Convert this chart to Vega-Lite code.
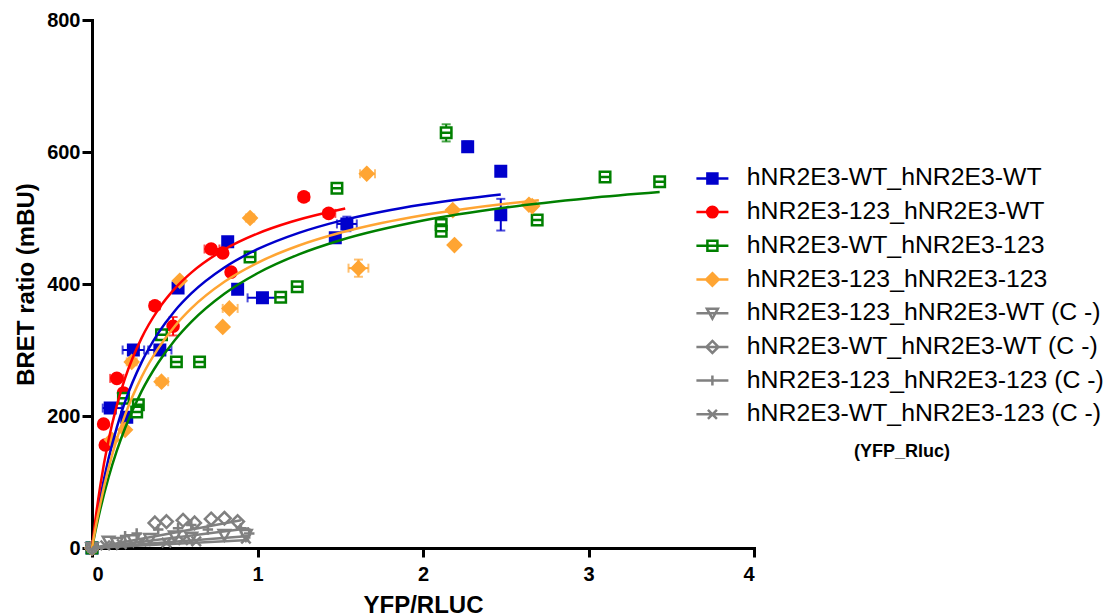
{
  "$schema": "https://vega.github.io/schema/vega-lite/v6.json",
  "width": 662,
  "height": 528,
  "autosize": {"type": "none"},
  "padding": {"left": 92, "top": 20, "right": 352, "bottom": 68},
  "background": "white",
  "config": {
    "view": {"stroke": null},
    "axis": {
      "grid": false,
      "domainColor": "black",
      "domainWidth": 3,
      "domainCap": "square",
      "tickColor": "black",
      "tickWidth": 3,
      "labelFont": "Liberation Sans",
      "labelFontSize": 20,
      "labelFontWeight": "bold",
      "labelColor": "black",
      "titleFont": "Liberation Sans",
      "titleFontSize": 24,
      "titleFontWeight": "bold",
      "titleColor": "black"
    },
    "axisX": {"tickSize": 9, "labelPadding": 7, "titleY": 64, "titleBaseline": "alphabetic", "titleAlign": "center"},
    "axisY": {"tickSize": 10, "labelPadding": 2, "titleX": -59, "titleY": 264, "titleAngle": -90, "titleAlign": "center", "titleBaseline": "alphabetic"},
    "legend": {
      "orient": "none",
      "legendX": 608,
      "legendY": 146,
      "padding": 0,
      "titleOrient": "bottom",
      "titleAnchor": "middle",
      "titlePadding": 17,
      "titleFont": "Liberation Sans",
      "titleFontSize": 18,
      "titleFontWeight": "bold",
      "titleColor": "black",
      "labelFont": "Liberation Sans",
      "labelFontSize": 24.8,
      "labelColor": "black",
      "labelLimit": 600,
      "labelOffset": 22,
      "symbolSize": 100,
      "symbolStrokeWidth": 2.5,
      "symbolOpacity": 1,
      "rowPadding": 7.7
    }
  },
  "resolve": {"scale": {"shape": "independent", "fill": "independent", "stroke": "independent"}},
  "datasets": {
    "pts": [
      {"series": "hNR2E3-WT_hNR2E3-WT", "x": 0, "y": 0},
      {"series": "hNR2E3-WT_hNR2E3-WT", "x": 0.11, "y": 212},
      {"series": "hNR2E3-WT_hNR2E3-WT", "x": 0.21, "y": 198},
      {"series": "hNR2E3-WT_hNR2E3-WT", "x": 0.25, "y": 300},
      {"series": "hNR2E3-WT_hNR2E3-WT", "x": 0.41, "y": 300},
      {"series": "hNR2E3-WT_hNR2E3-WT", "x": 0.52, "y": 394},
      {"series": "hNR2E3-WT_hNR2E3-WT", "x": 0.82, "y": 464},
      {"series": "hNR2E3-WT_hNR2E3-WT", "x": 0.88, "y": 392},
      {"series": "hNR2E3-WT_hNR2E3-WT", "x": 1.03, "y": 379},
      {"series": "hNR2E3-WT_hNR2E3-WT", "x": 1.47, "y": 470},
      {"series": "hNR2E3-WT_hNR2E3-WT", "x": 1.54, "y": 491},
      {"series": "hNR2E3-WT_hNR2E3-WT", "x": 2.27, "y": 608},
      {"series": "hNR2E3-WT_hNR2E3-WT", "x": 2.47, "y": 571},
      {"series": "hNR2E3-WT_hNR2E3-WT", "x": 2.47, "y": 505},
      {"series": "hNR2E3-123_hNR2E3-WT", "x": 0, "y": 0},
      {"series": "hNR2E3-123_hNR2E3-WT", "x": 0.08, "y": 156},
      {"series": "hNR2E3-123_hNR2E3-WT", "x": 0.07, "y": 188},
      {"series": "hNR2E3-123_hNR2E3-WT", "x": 0.15, "y": 257},
      {"series": "hNR2E3-123_hNR2E3-WT", "x": 0.19, "y": 235},
      {"series": "hNR2E3-123_hNR2E3-WT", "x": 0.38, "y": 367},
      {"series": "hNR2E3-123_hNR2E3-WT", "x": 0.49, "y": 336},
      {"series": "hNR2E3-123_hNR2E3-WT", "x": 0.72, "y": 453},
      {"series": "hNR2E3-123_hNR2E3-WT", "x": 0.79, "y": 447},
      {"series": "hNR2E3-123_hNR2E3-WT", "x": 0.84, "y": 418},
      {"series": "hNR2E3-123_hNR2E3-WT", "x": 1.28, "y": 532},
      {"series": "hNR2E3-123_hNR2E3-WT", "x": 1.43, "y": 507},
      {"series": "hNR2E3-WT_hNR2E3-123", "x": 0, "y": 0},
      {"series": "hNR2E3-WT_hNR2E3-123", "x": 0.19, "y": 227},
      {"series": "hNR2E3-WT_hNR2E3-123", "x": 0.28, "y": 217},
      {"series": "hNR2E3-WT_hNR2E3-123", "x": 0.27, "y": 206},
      {"series": "hNR2E3-WT_hNR2E3-123", "x": 0.42, "y": 323},
      {"series": "hNR2E3-WT_hNR2E3-123", "x": 0.51, "y": 282},
      {"series": "hNR2E3-WT_hNR2E3-123", "x": 0.65, "y": 282},
      {"series": "hNR2E3-WT_hNR2E3-123", "x": 0.955, "y": 441},
      {"series": "hNR2E3-WT_hNR2E3-123", "x": 1.14, "y": 380},
      {"series": "hNR2E3-WT_hNR2E3-123", "x": 1.24, "y": 396},
      {"series": "hNR2E3-WT_hNR2E3-123", "x": 1.48, "y": 545},
      {"series": "hNR2E3-WT_hNR2E3-123", "x": 2.11, "y": 490},
      {"series": "hNR2E3-WT_hNR2E3-123", "x": 2.11, "y": 480},
      {"series": "hNR2E3-WT_hNR2E3-123", "x": 2.14, "y": 629},
      {"series": "hNR2E3-WT_hNR2E3-123", "x": 2.69, "y": 497},
      {"series": "hNR2E3-WT_hNR2E3-123", "x": 3.1, "y": 562},
      {"series": "hNR2E3-WT_hNR2E3-123", "x": 3.43, "y": 555},
      {"series": "hNR2E3-123_hNR2E3-123", "x": 0, "y": 0},
      {"series": "hNR2E3-123_hNR2E3-123", "x": 0.12, "y": 164},
      {"series": "hNR2E3-123_hNR2E3-123", "x": 0.2, "y": 179},
      {"series": "hNR2E3-123_hNR2E3-123", "x": 0.24, "y": 282},
      {"series": "hNR2E3-123_hNR2E3-123", "x": 0.42, "y": 252},
      {"series": "hNR2E3-123_hNR2E3-123", "x": 0.53, "y": 405},
      {"series": "hNR2E3-123_hNR2E3-123", "x": 0.79, "y": 335},
      {"series": "hNR2E3-123_hNR2E3-123", "x": 0.83, "y": 363},
      {"series": "hNR2E3-123_hNR2E3-123", "x": 0.955, "y": 500},
      {"series": "hNR2E3-123_hNR2E3-123", "x": 1.61, "y": 424},
      {"series": "hNR2E3-123_hNR2E3-123", "x": 1.66, "y": 567},
      {"series": "hNR2E3-123_hNR2E3-123", "x": 2.18, "y": 512},
      {"series": "hNR2E3-123_hNR2E3-123", "x": 2.19, "y": 459},
      {"series": "hNR2E3-123_hNR2E3-123", "x": 2.64, "y": 520},
      {"series": "hNR2E3-123_hNR2E3-123", "x": 2.66, "y": 518},
      {"series": "hNR2E3-123_hNR2E3-WT (C -)", "x": 0, "y": 0},
      {"series": "hNR2E3-123_hNR2E3-WT (C -)", "x": 0.1, "y": 10},
      {"series": "hNR2E3-123_hNR2E3-WT (C -)", "x": 0.15, "y": 8},
      {"series": "hNR2E3-123_hNR2E3-WT (C -)", "x": 0.25, "y": 12},
      {"series": "hNR2E3-123_hNR2E3-WT (C -)", "x": 0.35, "y": 14},
      {"series": "hNR2E3-123_hNR2E3-WT (C -)", "x": 0.5, "y": 18},
      {"series": "hNR2E3-123_hNR2E3-WT (C -)", "x": 0.6, "y": 16},
      {"series": "hNR2E3-123_hNR2E3-WT (C -)", "x": 0.8, "y": 20},
      {"series": "hNR2E3-123_hNR2E3-WT (C -)", "x": 0.93, "y": 20},
      {"series": "hNR2E3-WT_hNR2E3-WT (C -)", "x": 0, "y": 0},
      {"series": "hNR2E3-WT_hNR2E3-WT (C -)", "x": 0.38, "y": 38},
      {"series": "hNR2E3-WT_hNR2E3-WT (C -)", "x": 0.45, "y": 40},
      {"series": "hNR2E3-WT_hNR2E3-WT (C -)", "x": 0.55, "y": 42},
      {"series": "hNR2E3-WT_hNR2E3-WT (C -)", "x": 0.62, "y": 38},
      {"series": "hNR2E3-WT_hNR2E3-WT (C -)", "x": 0.72, "y": 44},
      {"series": "hNR2E3-WT_hNR2E3-WT (C -)", "x": 0.8, "y": 45},
      {"series": "hNR2E3-WT_hNR2E3-WT (C -)", "x": 0.88, "y": 40},
      {"series": "hNR2E3-123_hNR2E3-123 (C -)", "x": 0, "y": 0},
      {"series": "hNR2E3-123_hNR2E3-123 (C -)", "x": 0.2, "y": 18},
      {"series": "hNR2E3-123_hNR2E3-123 (C -)", "x": 0.27, "y": 22},
      {"series": "hNR2E3-123_hNR2E3-123 (C -)", "x": 0.4, "y": 28},
      {"series": "hNR2E3-123_hNR2E3-123 (C -)", "x": 0.52, "y": 30},
      {"series": "hNR2E3-123_hNR2E3-123 (C -)", "x": 0.6, "y": 35},
      {"series": "hNR2E3-123_hNR2E3-123 (C -)", "x": 0.7, "y": 28},
      {"series": "hNR2E3-123_hNR2E3-123 (C -)", "x": 0.9, "y": 30},
      {"series": "hNR2E3-123_hNR2E3-123 (C -)", "x": 0.95, "y": 22},
      {"series": "hNR2E3-WT_hNR2E3-123 (C -)", "x": 0, "y": 0},
      {"series": "hNR2E3-WT_hNR2E3-123 (C -)", "x": 0.08, "y": 4},
      {"series": "hNR2E3-WT_hNR2E3-123 (C -)", "x": 0.18, "y": 6},
      {"series": "hNR2E3-WT_hNR2E3-123 (C -)", "x": 0.3, "y": 10},
      {"series": "hNR2E3-WT_hNR2E3-123 (C -)", "x": 0.45, "y": 8},
      {"series": "hNR2E3-WT_hNR2E3-123 (C -)", "x": 0.55, "y": 12},
      {"series": "hNR2E3-WT_hNR2E3-123 (C -)", "x": 0.63, "y": 10},
      {"series": "hNR2E3-WT_hNR2E3-123 (C -)", "x": 0.93, "y": 14}
    ],
    "xerr": [
      {"series": "hNR2E3-WT_hNR2E3-WT", "y": 300, "xlo": 0.185, "xhi": 0.315},
      {"series": "hNR2E3-WT_hNR2E3-WT", "y": 300, "xlo": 0.34, "xhi": 0.48},
      {"series": "hNR2E3-WT_hNR2E3-WT", "y": 212, "xlo": 0.065, "xhi": 0.18},
      {"series": "hNR2E3-WT_hNR2E3-WT", "y": 379, "xlo": 0.94, "xhi": 1.13},
      {"series": "hNR2E3-WT_hNR2E3-WT", "y": 491, "xlo": 1.48, "xhi": 1.6},
      {"series": "hNR2E3-123_hNR2E3-WT", "y": 453, "xlo": 0.68, "xhi": 0.77},
      {"series": "hNR2E3-123_hNR2E3-WT", "y": 257, "xlo": 0.11, "xhi": 0.19},
      {"series": "hNR2E3-123_hNR2E3-WT", "y": 507, "xlo": 1.4, "xhi": 1.47},
      {"series": "hNR2E3-123_hNR2E3-WT", "y": 532, "xlo": 1.25, "xhi": 1.31},
      {"series": "hNR2E3-123_hNR2E3-WT", "y": 367, "xlo": 0.35, "xhi": 0.41},
      {"series": "hNR2E3-123_hNR2E3-123", "y": 424, "xlo": 1.55, "xhi": 1.67},
      {"series": "hNR2E3-123_hNR2E3-123", "y": 363, "xlo": 0.79, "xhi": 0.88},
      {"series": "hNR2E3-123_hNR2E3-123", "y": 567, "xlo": 1.62, "xhi": 1.71},
      {"series": "hNR2E3-123_hNR2E3-123", "y": 252, "xlo": 0.39, "xhi": 0.46},
      {"series": "hNR2E3-123_hNR2E3-123", "y": 500, "xlo": 0.93, "xhi": 0.98},
      {"series": "hNR2E3-123_hNR2E3-123", "y": 282, "xlo": 0.21, "xhi": 0.27},
      {"series": "hNR2E3-WT_hNR2E3-123", "y": 629, "xlo": 2.12, "xhi": 2.17}
    ],
    "yerr": [
      {"series": "hNR2E3-WT_hNR2E3-WT", "x": 2.47, "ylo": 481, "yhi": 529},
      {"series": "hNR2E3-WT_hNR2E3-WT", "x": 2.27, "ylo": 600, "yhi": 616},
      {"series": "hNR2E3-WT_hNR2E3-WT", "x": 1.54, "ylo": 480, "yhi": 502},
      {"series": "hNR2E3-WT_hNR2E3-123", "x": 2.14, "ylo": 616, "yhi": 642},
      {"series": "hNR2E3-WT_hNR2E3-123", "x": 2.11, "ylo": 475, "yhi": 497},
      {"series": "hNR2E3-123_hNR2E3-123", "x": 1.61, "ylo": 411, "yhi": 437},
      {"series": "hNR2E3-123_hNR2E3-WT", "x": 0.49, "ylo": 322, "yhi": 350}
    ],
    "fit": [
      {"series": "hNR2E3-WT_hNR2E3-WT", "x": 0, "y": 0},
      {"series": "hNR2E3-WT_hNR2E3-WT", "x": 0.02, "y": 32.9},
      {"series": "hNR2E3-WT_hNR2E3-WT", "x": 0.05, "y": 76.1},
      {"series": "hNR2E3-WT_hNR2E3-WT", "x": 0.1, "y": 135.4},
      {"series": "hNR2E3-WT_hNR2E3-WT", "x": 0.15, "y": 182.9},
      {"series": "hNR2E3-WT_hNR2E3-WT", "x": 0.2, "y": 221.7},
      {"series": "hNR2E3-WT_hNR2E3-WT", "x": 0.3, "y": 281.6},
      {"series": "hNR2E3-WT_hNR2E3-WT", "x": 0.4, "y": 325.5},
      {"series": "hNR2E3-WT_hNR2E3-WT", "x": 0.5, "y": 359.2},
      {"series": "hNR2E3-WT_hNR2E3-WT", "x": 0.6, "y": 385.7},
      {"series": "hNR2E3-WT_hNR2E3-WT", "x": 0.8, "y": 425.0},
      {"series": "hNR2E3-WT_hNR2E3-WT", "x": 1.0, "y": 452.7},
      {"series": "hNR2E3-WT_hNR2E3-WT", "x": 1.25, "y": 477.5},
      {"series": "hNR2E3-WT_hNR2E3-WT", "x": 1.5, "y": 495.7},
      {"series": "hNR2E3-WT_hNR2E3-WT", "x": 1.75, "y": 509.5},
      {"series": "hNR2E3-WT_hNR2E3-WT", "x": 2.0, "y": 520.4},
      {"series": "hNR2E3-WT_hNR2E3-WT", "x": 2.25, "y": 529.2},
      {"series": "hNR2E3-WT_hNR2E3-WT", "x": 2.47, "y": 535.7},
      {"series": "hNR2E3-123_hNR2E3-WT", "x": 0, "y": 0},
      {"series": "hNR2E3-123_hNR2E3-WT", "x": 0.02, "y": 41.7},
      {"series": "hNR2E3-123_hNR2E3-WT", "x": 0.05, "y": 94.5},
      {"series": "hNR2E3-123_hNR2E3-WT", "x": 0.1, "y": 163.5},
      {"series": "hNR2E3-123_hNR2E3-WT", "x": 0.15, "y": 216.1},
      {"series": "hNR2E3-123_hNR2E3-WT", "x": 0.2, "y": 257.4},
      {"series": "hNR2E3-123_hNR2E3-WT", "x": 0.3, "y": 318.4},
      {"series": "hNR2E3-123_hNR2E3-WT", "x": 0.4, "y": 361.2},
      {"series": "hNR2E3-123_hNR2E3-WT", "x": 0.5, "y": 392.9},
      {"series": "hNR2E3-123_hNR2E3-WT", "x": 0.6, "y": 417.2},
      {"series": "hNR2E3-123_hNR2E3-WT", "x": 0.8, "y": 452.3},
      {"series": "hNR2E3-123_hNR2E3-WT", "x": 1.0, "y": 476.4},
      {"series": "hNR2E3-123_hNR2E3-WT", "x": 1.2, "y": 493.9},
      {"series": "hNR2E3-123_hNR2E3-WT", "x": 1.4, "y": 507.2},
      {"series": "hNR2E3-123_hNR2E3-WT", "x": 1.53, "y": 514.3},
      {"series": "hNR2E3-WT_hNR2E3-123", "x": 0, "y": 0},
      {"series": "hNR2E3-WT_hNR2E3-123", "x": 0.02, "y": 24.8},
      {"series": "hNR2E3-WT_hNR2E3-123", "x": 0.05, "y": 58.5},
      {"series": "hNR2E3-WT_hNR2E3-123", "x": 0.1, "y": 106.8},
      {"series": "hNR2E3-WT_hNR2E3-123", "x": 0.15, "y": 147.4},
      {"series": "hNR2E3-WT_hNR2E3-123", "x": 0.2, "y": 181.9},
      {"series": "hNR2E3-WT_hNR2E3-123", "x": 0.3, "y": 237.7},
      {"series": "hNR2E3-WT_hNR2E3-123", "x": 0.4, "y": 280.7},
      {"series": "hNR2E3-WT_hNR2E3-123", "x": 0.5, "y": 314.9},
      {"series": "hNR2E3-WT_hNR2E3-123", "x": 0.6, "y": 342.7},
      {"series": "hNR2E3-WT_hNR2E3-123", "x": 0.8, "y": 385.3},
      {"series": "hNR2E3-WT_hNR2E3-123", "x": 1.0, "y": 416.3},
      {"series": "hNR2E3-WT_hNR2E3-123", "x": 1.25, "y": 444.9},
      {"series": "hNR2E3-WT_hNR2E3-123", "x": 1.5, "y": 466.3},
      {"series": "hNR2E3-WT_hNR2E3-123", "x": 2.0, "y": 496.2},
      {"series": "hNR2E3-WT_hNR2E3-123", "x": 2.5, "y": 516.0},
      {"series": "hNR2E3-WT_hNR2E3-123", "x": 3.0, "y": 530.1},
      {"series": "hNR2E3-WT_hNR2E3-123", "x": 3.43, "y": 539.3},
      {"series": "hNR2E3-123_hNR2E3-123", "x": 0, "y": 0},
      {"series": "hNR2E3-123_hNR2E3-123", "x": 0.02, "y": 28.8},
      {"series": "hNR2E3-123_hNR2E3-123", "x": 0.05, "y": 67.2},
      {"series": "hNR2E3-123_hNR2E3-123", "x": 0.1, "y": 121.0},
      {"series": "hNR2E3-123_hNR2E3-123", "x": 0.15, "y": 165.0},
      {"series": "hNR2E3-123_hNR2E3-123", "x": 0.2, "y": 201.7},
      {"series": "hNR2E3-123_hNR2E3-123", "x": 0.3, "y": 259.3},
      {"series": "hNR2E3-123_hNR2E3-123", "x": 0.4, "y": 302.5},
      {"series": "hNR2E3-123_hNR2E3-123", "x": 0.5, "y": 336.1},
      {"series": "hNR2E3-123_hNR2E3-123", "x": 0.6, "y": 363.0},
      {"series": "hNR2E3-123_hNR2E3-123", "x": 0.8, "y": 403.3},
      {"series": "hNR2E3-123_hNR2E3-123", "x": 1.0, "y": 432.1},
      {"series": "hNR2E3-123_hNR2E3-123", "x": 1.25, "y": 458.3},
      {"series": "hNR2E3-123_hNR2E3-123", "x": 1.5, "y": 477.6},
      {"series": "hNR2E3-123_hNR2E3-123", "x": 1.75, "y": 492.4},
      {"series": "hNR2E3-123_hNR2E3-123", "x": 2.0, "y": 504.2},
      {"series": "hNR2E3-123_hNR2E3-123", "x": 2.25, "y": 513.7},
      {"series": "hNR2E3-123_hNR2E3-123", "x": 2.5, "y": 521.6},
      {"series": "hNR2E3-123_hNR2E3-123", "x": 2.7, "y": 526.9},
      {"series": "hNR2E3-123_hNR2E3-WT (C -)", "x": 0, "y": 0},
      {"series": "hNR2E3-123_hNR2E3-WT (C -)", "x": 0.95, "y": 18},
      {"series": "hNR2E3-WT_hNR2E3-WT (C -)", "x": 0, "y": 0},
      {"series": "hNR2E3-WT_hNR2E3-WT (C -)", "x": 0.9, "y": 42},
      {"series": "hNR2E3-123_hNR2E3-123 (C -)", "x": 0, "y": 0},
      {"series": "hNR2E3-123_hNR2E3-123 (C -)", "x": 0.95, "y": 30},
      {"series": "hNR2E3-WT_hNR2E3-123 (C -)", "x": 0, "y": 0},
      {"series": "hNR2E3-WT_hNR2E3-123 (C -)", "x": 0.95, "y": 12}
    ]
  },
  "layer": [
    {
      "data": {"name": "xerr"},
      "mark": {"type": "errorbar", "ticks": true, "size": 9, "thickness": 2},
      "encoding": {
        "x": {"field": "xlo", "type": "quantitative", "scale": {"domain": [0, 4], "nice": false}, "title": "YFP/RLUC", "axis": {"values": [0, 1, 2, 3, 4]}},
        "x2": {"field": "xhi"},
        "y": {"field": "y", "type": "quantitative", "scale": {"domain": [0, 800], "nice": false}, "title": "BRET ratio (mBU)", "axis": {"values": [0, 200, 400, 600, 800]}},
        "color": {"field": "series", "type": "nominal", "legend": null,
          "scale": {"domain": ["hNR2E3-WT_hNR2E3-WT", "hNR2E3-123_hNR2E3-WT", "hNR2E3-WT_hNR2E3-123", "hNR2E3-123_hNR2E3-123", "hNR2E3-123_hNR2E3-WT (C -)", "hNR2E3-WT_hNR2E3-WT (C -)", "hNR2E3-123_hNR2E3-123 (C -)", "hNR2E3-WT_hNR2E3-123 (C -)"],
                    "range": ["#0000CC", "#FF0000", "#008000", "#FFA533", "#808080", "#808080", "#808080", "#808080"]}}
      }
    },
    {
      "data": {"name": "yerr"},
      "mark": {"type": "errorbar", "ticks": true, "size": 9, "thickness": 2},
      "encoding": {
        "x": {"field": "x", "type": "quantitative", "scale": {"domain": [0, 4], "nice": false}, "title": "YFP/RLUC", "axis": {"values": [0, 1, 2, 3, 4]}},
        "y": {"field": "ylo", "type": "quantitative", "scale": {"domain": [0, 800], "nice": false}, "title": "BRET ratio (mBU)", "axis": {"values": [0, 200, 400, 600, 800]}},
        "y2": {"field": "yhi"},
        "color": {"field": "series", "type": "nominal", "legend": null}
      }
    },
    {
      "data": {"name": "pts"},
      "mark": {"type": "point", "filled": false, "strokeWidth": 2.5, "size": 110, "opacity": 1},
      "encoding": {
        "x": {"field": "x", "type": "quantitative", "scale": {"domain": [0, 4], "nice": false}, "title": "YFP/RLUC", "axis": {"values": [0, 1, 2, 3, 4]}},
        "y": {"field": "y", "type": "quantitative", "scale": {"domain": [0, 800], "nice": false}, "title": "BRET ratio (mBU)", "axis": {"values": [0, 200, 400, 600, 800]}},
        "shape": {"field": "series", "type": "nominal", "legend": null,
          "scale": {"domain": ["hNR2E3-WT_hNR2E3-WT", "hNR2E3-123_hNR2E3-WT", "hNR2E3-WT_hNR2E3-123", "hNR2E3-123_hNR2E3-123", "hNR2E3-123_hNR2E3-WT (C -)", "hNR2E3-WT_hNR2E3-WT (C -)", "hNR2E3-123_hNR2E3-123 (C -)", "hNR2E3-WT_hNR2E3-123 (C -)"],
                    "range": ["M-1,-1H1V1H-1Z", "M-1.05,0A1.05,1.05,0,1,0,1.05,0A1.05,1.05,0,1,0,-1.05,0Z", "M-1,-1H1V1H-1ZM-1,0H1", "M0,-1.25L1.25,0L0,1.25L-1.25,0Z", "M-1.1,-0.9H1.1L0,1.1Z", "M0,-1.2L1.2,0L0,1.2L-1.2,0Z", "M-1,0H1M0,-1V1", "M-0.9,-0.9L0.9,0.9M-0.9,0.9L0.9,-0.9"]}},
        "fill": {"field": "series", "type": "nominal", "legend": null,
          "scale": {"domain": ["hNR2E3-WT_hNR2E3-WT", "hNR2E3-123_hNR2E3-WT", "hNR2E3-WT_hNR2E3-123", "hNR2E3-123_hNR2E3-123", "hNR2E3-123_hNR2E3-WT (C -)", "hNR2E3-WT_hNR2E3-WT (C -)", "hNR2E3-123_hNR2E3-123 (C -)", "hNR2E3-WT_hNR2E3-123 (C -)"],
                    "range": ["#0000CC", "#FF0000", "white", "#FFA533", "white", "white", "white", "white"]}},
        "stroke": {"field": "series", "type": "nominal", "legend": null,
          "scale": {"domain": ["hNR2E3-WT_hNR2E3-WT", "hNR2E3-123_hNR2E3-WT", "hNR2E3-WT_hNR2E3-123", "hNR2E3-123_hNR2E3-123", "hNR2E3-123_hNR2E3-WT (C -)", "hNR2E3-WT_hNR2E3-WT (C -)", "hNR2E3-123_hNR2E3-123 (C -)", "hNR2E3-WT_hNR2E3-123 (C -)"],
                    "range": ["#0000CC", "#FF0000", "#008000", "#FFA533", "#808080", "#808080", "#808080", "#808080"]}}
      }
    },
    {
      "data": {"name": "fit"},
      "mark": {"type": "line", "strokeWidth": 2.5, "interpolate": "monotone"},
      "encoding": {
        "x": {"field": "x", "type": "quantitative", "scale": {"domain": [0, 4], "nice": false}, "title": "YFP/RLUC", "axis": {"values": [0, 1, 2, 3, 4]}},
        "y": {"field": "y", "type": "quantitative", "scale": {"domain": [0, 800], "nice": false}, "title": "BRET ratio (mBU)", "axis": {"values": [0, 200, 400, 600, 800]}},
        "color": {"field": "series", "type": "nominal", "legend": null}
      }
    },
    {
      "data": {"name": "fit"},
      "mark": {"type": "point", "filled": false, "strokeWidth": 2.5, "opacity": 0},
      "encoding": {
        "x": {"field": "x", "type": "quantitative", "scale": {"domain": [0, 4], "nice": false}, "title": "YFP/RLUC", "axis": {"values": [0, 1, 2, 3, 4]}},
        "y": {"field": "y", "type": "quantitative", "scale": {"domain": [0, 800], "nice": false}, "title": "BRET ratio (mBU)", "axis": {"values": [0, 200, 400, 600, 800]}},
        "shape": {"field": "series", "type": "nominal", "title": "(YFP_Rluc)",
          "scale": {"domain": ["hNR2E3-WT_hNR2E3-WT", "hNR2E3-123_hNR2E3-WT", "hNR2E3-WT_hNR2E3-123", "hNR2E3-123_hNR2E3-123", "hNR2E3-123_hNR2E3-WT (C -)", "hNR2E3-WT_hNR2E3-WT (C -)", "hNR2E3-123_hNR2E3-123 (C -)", "hNR2E3-WT_hNR2E3-123 (C -)"],
                    "range": ["M-3.2,0H3.2M-1,-1H1V1H-1Z", "M-3.2,0H3.2M-1.05,0A1.05,1.05,0,1,0,1.05,0A1.05,1.05,0,1,0,-1.05,0Z", "M-3.2,0H3.2M-1,-1H1V1H-1Z", "M-3.2,0H3.2M0,-1.25L1.25,0L0,1.25L-1.25,0Z", "M-3.2,0H3.2M-1.1,-0.9H1.1L0,1.1Z", "M-3.2,0H3.2M0,-1.2L1.2,0L0,1.2L-1.2,0Z", "M-3.2,0H3.2M0,-1V1", "M-3.2,0H3.2M-0.9,-0.9L0.9,0.9M-0.9,0.9L0.9,-0.9"]}},
        "fill": {"field": "series", "type": "nominal", "title": "(YFP_Rluc)",
          "scale": {"domain": ["hNR2E3-WT_hNR2E3-WT", "hNR2E3-123_hNR2E3-WT", "hNR2E3-WT_hNR2E3-123", "hNR2E3-123_hNR2E3-123", "hNR2E3-123_hNR2E3-WT (C -)", "hNR2E3-WT_hNR2E3-WT (C -)", "hNR2E3-123_hNR2E3-123 (C -)", "hNR2E3-WT_hNR2E3-123 (C -)"],
                    "range": ["#0000CC", "#FF0000", "white", "#FFA533", "white", "white", "white", "white"]}},
        "stroke": {"field": "series", "type": "nominal", "title": "(YFP_Rluc)",
          "scale": {"domain": ["hNR2E3-WT_hNR2E3-WT", "hNR2E3-123_hNR2E3-WT", "hNR2E3-WT_hNR2E3-123", "hNR2E3-123_hNR2E3-123", "hNR2E3-123_hNR2E3-WT (C -)", "hNR2E3-WT_hNR2E3-WT (C -)", "hNR2E3-123_hNR2E3-123 (C -)", "hNR2E3-WT_hNR2E3-123 (C -)"],
                    "range": ["#0000CC", "#FF0000", "#008000", "#FFA533", "#808080", "#808080", "#808080", "#808080"]}}
      }
    }
  ]
}
